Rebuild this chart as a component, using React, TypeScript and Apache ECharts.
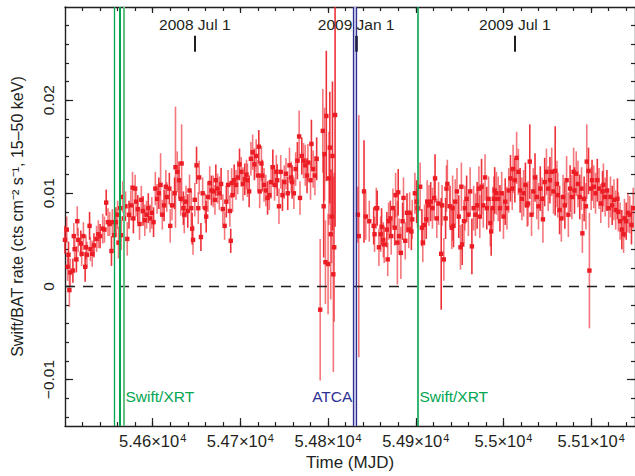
import React, { useEffect, useRef } from 'react';
import * as echarts from 'echarts';

// ---- data (rate and error in units of 1e-3 cts cm^-2 s^-1) ----
const RATE_UNIT = 1e-3;

const mjd = [
  54500, 54502, 54503, 54504, 54505, 54506, 54509, 54510, 54511, 54513, 54514, 54515, 54518, 54519, 54521, 54523, 54524, 54525, 54528, 54529,
  54531, 54533, 54536, 54538, 54540, 54543, 54545, 54547, 54549, 54551, 54553, 54554, 54556, 54558, 54560, 54561, 54563, 54564, 54566, 54567,
  54569, 54571, 54573, 54575, 54577, 54578, 54580, 54581, 54583, 54585, 54587, 54589, 54591, 54593, 54595, 54597, 54599, 54601, 54603, 54605,
  54607, 54609, 54611, 54613, 54615, 54616, 54619, 54620, 54622, 54625, 54626, 54628, 54630, 54632, 54633, 54635, 54636, 54638, 54640, 54642,
  54644, 54645, 54646, 54648, 54650, 54652, 54653, 54655, 54657, 54660, 54661, 54663, 54665, 54667, 54669, 54671, 54672, 54674, 54676, 54678,
  54680, 54682, 54684, 54686, 54688, 54689, 54690, 54691, 54693, 54695, 54697, 54699, 54701, 54703, 54705, 54707, 54708, 54710, 54712, 54714,
  54716, 54718, 54720, 54721,
  54722, 54724, 54725, 54727, 54729, 54731, 54733, 54735, 54737, 54739, 54741, 54742, 54744, 54746, 54748, 54750, 54752, 54754, 54756, 54758,
  54759, 54761, 54763, 54765, 54767, 54768, 54770, 54772, 54774, 54776, 54777, 54780, 54781, 54783, 54785, 54787,
  54791, 54794, 54795, 54796, 54797, 54798, 54800, 54801, 54802, 54803, 54804, 54805, 54806, 54807, 54808,
  54834, 54835, 54841, 54843, 54847, 54852, 54853, 54855, 54856, 54858, 54860, 54861, 54863, 54864, 54867, 54868, 54869, 54871, 54872, 54874,
  54876, 54877, 54879, 54880, 54881, 54883, 54885, 54886, 54888, 54890, 54892, 54893, 54895, 54896, 54899, 54901, 54902, 54905, 54907, 54908,
  54910, 54912, 54913, 54915, 54917, 54919, 54921, 54922, 54924, 54926, 54929, 54930, 54932, 54934, 54935, 54936, 54939, 54941,
  54942, 54943, 54945, 54947, 54949, 54951, 54952, 54953, 54955, 54956, 54958, 54960, 54962, 54964, 54966, 54968, 54970, 54972, 54973, 54975,
  54977, 54979, 54981, 54983, 54985, 54986, 54988, 54989, 54990, 54992, 54994, 54996, 54998, 55000, 55002, 55004, 55006, 55008, 55010, 55011,
  55013, 55015, 55017, 55019, 55021, 55023, 55025, 55027, 55028, 55030, 55032, 55034, 55036, 55038, 55040, 55042, 55044, 55045, 55047, 55049,
  55051, 55053, 55055, 55057, 55059, 55061, 55062, 55064, 55066, 55068, 55070, 55072, 55074, 55076, 55078, 55080, 55081, 55083, 55085, 55087,
  55089, 55090, 55092, 55094, 55095, 55097, 55098, 55100, 55101, 55103, 55105, 55107, 55109, 55111, 55113, 55114, 55116, 55118, 55120, 55122,
  55124, 55126, 55128, 55130, 55131, 55133, 55135, 55137, 55138, 55140, 55142, 55144, 55146, 55148,
];

const rate = [
  5.0, 6.1, 2.1, 3.4, -0.4, 1.5, 1.7, 5.4, 4.0, 2.9, 7.0, 5.0, 4.6, 3.5, 5.4, 2.1, 4.2, 3.4, 6.5, 4.0,
  3.5, 4.4, 5.1, 5.6, 5.4, 6.2, 6.1, 9.0, 6.9, 6.7, 3.8, 6.9, 5.5, 6.9, 7.7, 4.7, 8.4, 5.5, 9.6, 7.3,
  8.6, 5.1, 7.7, 8.7, 10.6, 7.3, 10.5, 9.1, 8.3, 6.7, 9.3, 8.1, 7.1, 7.7, 8.4, 7.3, 7.9, 6.9, 10.5, 9.4,
  10.0, 10.9, 7.7, 8.7, 10.7, 9.6, 10.5, 6.5, 8.7, 10.0, 12.8, 12.3, 11.4, 9.4, 13.2, 8.4, 7.7, 9.1, 8.1, 10.3,
  8.4, 6.2, 5.0, 9.3, 13.0, 8.4, 11.7, 5.3, 10.0, 8.4, 7.5, 9.6, 11.1, 10.3, 10.2, 9.3, 11.4, 10.5, 10.0, 11.0,
  8.3, 6.5, 9.1, 10.9, 8.1, 4.9, 11.1, 9.8, 11.4, 10.9, 11.7, 13.1, 12.3, 11.0, 11.5, 12.0, 11.4, 10.2, 13.7, 14.4,
  13.1, 14.0, 11.9, 15.0,
  10.2, 13.2, 11.9, 10.9, 10.3, 9.5, 9.8, 11.2, 12.8, 10.9, 12.3, 11.4, 8.6, 12.3, 9.8, 11.2, 12.1, 10.0, 13.0, 11.7,
  11.2, 10.0, 12.6, 13.5, 16.1, 9.5, 14.0, 13.5, 13.0, 11.9, 13.3, 11.4, 15.3, 12.6, 11.9, 13.7,
  -2.5, 16.7, 8.6, 14.2, 2.6, 18.3, 2.4, 11.6, 14.9, 5.6, 7.5, 14.0, 1.3, 4.2, 18.4,
  7.7, 5.4, 10.2, 7.5, 7.0, 6.5, 5.6, 8.4, 8.4, 4.2, 5.6, 6.4, 5.0, 4.5, 6.1, 2.9, 7.0, 7.3, 5.4, 8.4,
  6.3, 9.8, 4.7, 10.1, 5.4, 3.6, 7.0, 9.5, 4.9, 7.9, 6.1, 7.9, 5.9, 7.2, 10.0, 9.1, 8.4, 10.7, 6.3, 4.7,
  6.6, 7.2, 9.1, 8.7, 9.1, 8.4, 9.5, 11.6, 7.3, 8.9, 3.5, 8.7, 2.9, 7.3, 10.5, 11.0, 8.6, 6.3,
  8.4, 6.5, 9.1, 10.2, 7.5, 4.2, 10.7, 4.5, 7.0, 8.4, 9.4, 7.7, 10.2, 4.3, 8.4, 7.7, 8.7, 10.5, 7.5, 10.7,
  8.7, 11.7, 8.4, 9.4, 6.8, 5.9, 8.4, 9.4, 10.3, 10.0, 9.4, 8.4, 10.0, 7.5, 9.1, 8.4, 10.3, 11.6, 10.5, 12.6,
  11.4, 13.8, 12.3, 10.3, 9.4, 10.0, 10.9, 8.7, 8.9, 13.4, 7.7, 10.2, 11.7, 9.6, 8.6, 10.5, 9.4, 7.2, 11.2, 12.3,
  10.5, 11.4, 12.3, 10.2, 12.4, 11.0, 9.8, 8.2, 7.3, 9.6, 8.7, 11.4, 7.7, 10.5, 9.6, 12.3, 10.3, 12.1, 11.0, 9.6,
  10.5, 5.7, 9.4, 8.6, 13.4, 12.4, 1.7, 10.5, 11.4, 10.7, 10.0, 11.4, 10.5, 8.9, 10.2, 10.9, 9.6, 10.3, 8.4, 9.6,
  8.7, 9.3, 8.2, 9.4, 8.0, 7.0, 6.1, 5.6, 7.3, 7.0, 7.9, 7.7, 6.6, 8.4,
];

const rateErr = [
  1.5, 1.4, 1.5, 1.4, 1.8, 1.5, 1.3, 1.4, 1.3, 1.4, 1.6, 1.3, 1.4, 1.3, 1.5, 1.6, 1.3, 1.4, 1.5, 1.3,
  1.4, 1.3, 1.4, 1.5, 1.3, 1.6, 1.4, 1.4, 1.5, 1.3, 1.6, 1.4, 1.5, 1.6, 1.5, 1.7, 1.8, 1.6, 1.7, 1.5,
  1.6, 1.8, 1.5, 1.6, 1.7, 1.6, 1.5, 1.6, 1.5, 1.7, 1.5, 1.6, 1.7, 1.5, 1.6, 1.5, 1.7, 1.6, 1.8, 1.6,
  1.7, 3.4, 1.6, 1.7, 1.8, 1.6, 1.7, 1.8, 1.6, 1.7, 6.5, 2.2, 2.0, 1.8, 4.2, 1.8, 2.0, 1.7, 1.8, 1.7,
  1.9, 1.7, 1.6, 1.8, 2.0, 1.7, 1.8, 1.5, 1.7, 1.6, 1.7, 1.6, 1.8, 1.6, 1.7, 1.6, 1.7, 1.6, 1.8, 1.7,
  1.6, 1.5, 1.7, 1.6, 1.7, 1.3, 1.6, 1.8, 1.7, 1.6, 1.8, 1.7, 1.6, 1.8, 1.7, 1.6, 1.8, 1.7, 1.8, 1.9,
  1.7, 1.8, 1.7, 1.8,
  1.8, 1.9, 1.7, 1.8, 1.7, 1.8, 1.6, 1.8, 1.9, 1.7, 1.8, 1.7, 1.9, 1.8, 1.7, 1.8, 1.7, 1.8, 1.9, 1.7,
  1.8, 1.7, 1.8, 2.0, 2.8, 1.8, 2.0, 1.9, 2.2, 1.9, 2.0, 2.1, 2.6, 2.0, 2.1, 2.3,
  7.6, 4.5, 5.5, 5.0, 4.5, 7.0, 5.4, 5.0, 6.0, 7.0, 5.0, 8.0, 10.5, 8.0, 12.0,
  3.0, 13.0, 5.5, 2.5, 2.2, 2.0, 1.9, 2.2, 1.9, 2.0, 1.9, 2.0, 1.9, 2.0, 1.9, 1.8, 2.0, 1.9, 2.0, 2.1,
  1.9, 2.4, 4.5, 2.5, 1.9, 2.8, 2.0, 2.2, 2.0, 2.1, 2.0, 2.2, 2.0, 2.1, 2.2, 2.3, 2.1, 2.6, 2.0, 2.1,
  2.2, 2.1, 2.3, 2.2, 2.1, 2.2, 2.4, 2.6, 2.1, 2.3, 6.0, 2.2, 2.3, 2.2, 2.5, 2.6, 2.2, 2.3,
  3.5, 2.3, 2.4, 2.5, 2.3, 2.4, 2.6, 2.2, 2.3, 2.4, 2.5, 2.3, 2.6, 3.0, 2.4, 2.3, 2.5, 2.4, 2.3, 3.0,
  2.4, 2.5, 2.3, 2.4, 2.5, 2.6, 2.3, 2.4, 2.5, 2.3, 2.4, 2.5, 2.3, 2.4, 2.5, 2.3, 2.4, 2.5, 2.3, 2.6,
  2.4, 2.8, 2.5, 2.4, 2.3, 2.5, 2.4, 2.3, 2.4, 4.0, 2.3, 2.5, 2.6, 2.4, 2.5, 2.4, 2.3, 2.5, 2.6, 2.5,
  2.4, 2.5, 2.6, 2.4, 4.8, 2.5, 2.4, 2.6, 2.5, 2.4, 2.5, 2.6, 2.4, 2.5, 2.4, 2.6, 2.5, 2.4, 2.5, 2.4,
  2.3, 2.1, 2.4, 2.5, 4.0, 2.5, 6.2, 2.3, 2.2, 2.3, 2.2, 2.3, 2.2, 2.1, 2.2, 2.3, 2.1, 2.2, 2.1, 2.2,
  2.1, 2.2, 2.1, 2.2, 2.1, 2.0, 2.1, 2.0, 2.1, 2.0, 2.1, 2.0, 2.1, 2.2,
];

// ---- axis ticks ----
const xMin = 54500;
const xMax = 55150;
const xMajorTicks = [54600, 54700, 54800, 54900, 55000, 55100];
const xMinorTicks = [
  54520, 54540, 54560, 54580, 54600, 54620, 54640, 54660, 54680, 54700, 54720, 54740, 54760, 54780, 54800, 54820,
  54840, 54860, 54880, 54900, 54920, 54940, 54960, 54980, 55000, 55020, 55040, 55060, 55080, 55100, 55120, 55140,
];
const yMin = -0.015;
const yMax = 0.03;
const yMajorTicks = [-0.01, 0, 0.01, 0.02];
const yMinorTicks = [
  -0.014, -0.012, -0.01, -0.008, -0.006, -0.004, -0.002, 0, 0.002, 0.004, 0.006, 0.008, 0.01, 0.012, 0.014,
  0.016, 0.018, 0.02, 0.022, 0.024, 0.026, 0.028,
];

// ---- annotations ----
const xrtObs = [54556.0, 54562.2, 54566.7, 54901.9];
const atcaObs = [54828.8, 54831.8];
const dateLabels = ['2008 Jul 1', '2009 Jan 1', '2009 Jul 1'];
const dateMjd = [54648, 54832, 55013];

const FONT = '"Liberation Sans", Arial, Helvetica, sans-serif';
const INK = '#231f20';
const RED = '#ec1c24';
const GREEN = '#00a651';
const GREEN_LIGHT = '#62c084';
const BLUE = '#2e3192';

function xAxisCfg(position: string, major: boolean, withLabels: boolean) {
  return {
    type: 'value',
    position,
    min: xMin,
    max: xMax,
    gridIndex: 0,
    axisLine: { show: major, onZero: false, lineStyle: { color: INK, width: 1.4 } },
    axisTick: {
      show: true,
      inside: true,
      length: major ? (position === 'top' ? 6 : 8) : 4,
      customValues: major ? xMajorTicks : xMinorTicks,
      lineStyle: { color: INK, width: 1.2 },
    },
    minorTick: { show: false },
    splitLine: { show: false },
    axisLabel: withLabels
      ? {
          show: true,
          customValues: xMajorTicks,
          formatter: (v: number) => `{m|${v / 10000}×10}{s|4}`,
          rich: {
            m: { fontSize: 16.5, fontFamily: FONT, color: INK },
            s: { fontSize: 11, fontFamily: FONT, color: INK, verticalAlign: 'top', padding: [0, 0, 0, 1] },
          },
          margin: 6,
        }
      : { show: false },
    ...(withLabels
      ? {
          name: 'Time (MJD)',
          nameLocation: 'middle',
          nameGap: 25,
          nameTextStyle: { fontSize: 17, fontFamily: FONT, color: INK },
        }
      : {}),
  };
}

function yAxisCfg(position: string, major: boolean, withLabels: boolean) {
  return {
    type: 'value',
    position,
    min: yMin,
    max: yMax,
    gridIndex: 0,
    axisLine: { show: major, onZero: false, lineStyle: { color: INK, width: 1.4 } },
    axisTick: {
      show: true,
      inside: true,
      length: major ? 8 : 4,
      customValues: major ? yMajorTicks : yMinorTicks,
      lineStyle: { color: INK, width: 1.2 },
    },
    minorTick: { show: false },
    splitLine: { show: false },
    axisLabel: withLabels
      ? {
          show: true,
          customValues: yMajorTicks,
          rotate: 90,
          formatter: (v: number) => (v < 0 ? '−' + String(Math.abs(v)) : String(v)),
          fontSize: 15.5,
          fontFamily: FONT,
          color: INK,
          margin: 9,
        }
      : { show: false },
    ...(withLabels
      ? {
          name: 'Swift/BAT rate (cts cm⁻² s⁻¹, 15–50 keV)',
          nameLocation: 'middle',
          nameGap: 40,
          nameTextStyle: { fontSize: 16, fontFamily: FONT, color: INK },
        }
      : {}),
  };
}

export default function App() {
  const ref = useRef<HTMLDivElement>(null);

  useEffect(() => {
    if (!ref.current) return;
    const chart = echarts.init(ref.current, undefined, { renderer: 'svg' });

    const points = mjd.map((m, i) => [m, rate[i] * RATE_UNIT, rateErr[i] * RATE_UNIT]);

    const tickLo = 0.0252;
    const tickHi = 0.0269;
    const labelY = -0.0118;

    const option: any = {
      animation: false,
      backgroundColor: '#ffffff',
      grid: { left: 65, top: 7, width: 571, height: 424, containLabel: false },
      xAxis: [
        xAxisCfg('bottom', true, true),
        xAxisCfg('bottom', false, false),
        xAxisCfg('top', true, false),
        xAxisCfg('top', false, false),
      ],
      yAxis: [
        yAxisCfg('left', true, true),
        yAxisCfg('left', false, false),
        yAxisCfg('right', true, false),
        yAxisCfg('right', false, false),
      ],
      series: [
        {
          type: 'custom',
          xAxisIndex: 0,
          yAxisIndex: 0,
          data: points,
          encode: { x: 0, y: 1 },
          z: 2,
          renderItem: (params: any, api: any) => {
            const x = api.value(0);
            const y = api.value(1);
            const e = api.value(2);
            const p = api.coord([x, y]);
            const lo = api.coord([x, y - e]);
            const hi = api.coord([x, y + e]);
            const cs = params.coordSys;
            const top = Math.max(hi[1], cs.y);
            const bot = Math.min(lo[1], cs.y + cs.height);
            const faint = params.dataIndex % 3 !== 0;
            return {
              type: 'group',
              children: [
                {
                  type: 'line',
                  shape: { x1: p[0], y1: bot, x2: p[0], y2: top },
                  style: { stroke: RED, lineWidth: 1.6, opacity: faint ? 0.6 : 0.9 },
                },
                {
                  type: 'rect',
                  shape: { x: p[0] - 2.2, y: p[1] - 2.2, width: 4.4, height: 4.4 },
                  style: { fill: RED },
                },
              ],
            };
          },
        },
        {
          type: 'line',
          xAxisIndex: 0,
          yAxisIndex: 0,
          data: [],
          z: 5,
          markArea: {
            silent: true,
            itemStyle: { color: '#d4d4f0' },
            data: [[{ xAxis: atcaObs[0] }, { xAxis: atcaObs[1] }]],
          },
          markLine: {
            silent: true,
            symbol: ['none', 'none'],
            precision: 6,
            label: { show: false },
            lineStyle: { type: 'solid' },
            data: [
              { yAxis: 0, lineStyle: { color: INK, width: 1.3, type: [10, 8] } },
              { xAxis: xrtObs[0], lineStyle: { color: GREEN, width: 1.3, type: 'solid' } },
              { xAxis: xrtObs[1], lineStyle: { color: GREEN, width: 2, type: 'solid' } },
              { xAxis: xrtObs[2], lineStyle: { color: GREEN_LIGHT, width: 2, type: 'solid' } },
              { xAxis: xrtObs[3], lineStyle: { color: GREEN, width: 1.6, type: 'solid' } },
              { xAxis: atcaObs[0], lineStyle: { color: BLUE, width: 1.3, type: 'solid' } },
              { xAxis: atcaObs[1], lineStyle: { color: BLUE, width: 1.3, type: 'solid' } },
              ...dateMjd.map((m, i) => [
                {
                  coord: [m, tickLo],
                  lineStyle: { color: i === 1 ? '#1c1c40' : INK, width: i === 1 ? 2.6 : 2, type: 'solid' },
                  label: {
                    show: true,
                    position: 'end',
                    formatter: dateLabels[i],
                    distance: 3,
                    fontSize: 15.5,
                    fontFamily: FONT,
                    color: INK,
                  },
                },
                { coord: [m, tickHi] },
              ]),
            ],
          },
          markPoint: {
            silent: true,
            symbol: 'circle',
            symbolSize: 0,
            data: [
              {
                coord: [xrtObs[2], labelY],
                label: { show: true, position: 'right', distance: 2, formatter: 'Swift/XRT', color: GREEN, fontSize: 15.5, fontFamily: FONT },
              },
              {
                coord: [atcaObs[0], labelY],
                label: { show: true, position: 'left', distance: 1, formatter: 'ATCA', color: BLUE, fontSize: 15.5, fontFamily: FONT },
              },
              {
                coord: [xrtObs[3], labelY],
                label: { show: true, position: 'right', distance: 2, formatter: 'Swift/XRT', color: GREEN, fontSize: 15.5, fontFamily: FONT },
              },
            ],
          },
        },
      ],
    };

    chart.setOption(option);
    return () => chart.dispose();
  }, []);

  return (
    <div
      ref={ref}
      style={{ position: 'fixed', left: 0, top: 0, width: 635, height: 476, background: '#fff' }}
    />
  );
}
